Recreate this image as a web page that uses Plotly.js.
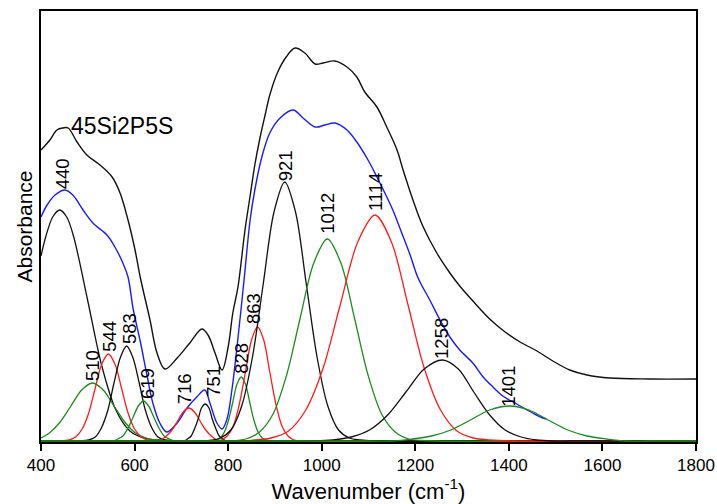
<!DOCTYPE html>
<html>
<head>
<meta charset="utf-8">
<script src="https://cdn.plot.ly/plotly-3.0.1.min.js"></script>
<style>html,body{margin:0;padding:0;background:#fff;}#chart{width:717px;height:504px;}</style>
</head>
<body>
<div id="chart"></div>
<script>
// ---- Data (wavenumber in cm-1, absorbance in arbitrary units) ----
const spectrumX = [400,419,434,447,458,477,498,526,552,569,586,601,612,633,648,665,691,718,744,757,772,787,800,810,821,836,847,857,868,879,889,906,924,943,964,986,1003,1028,1054,1075,1092,1118,1139,1161,1174,1195,1216,1246,1274,1295,1327,1359,1392,1424,1460,1494,1530,1567,1616,1700,1800];
const spectrumY = [2.91,3.01,3.11,3.13,3.13,2.99,2.86,2.76,2.64,2.48,2.21,1.91,1.64,1.21,0.88,0.72,0.83,0.98,1.12,1.06,0.88,0.71,0.94,1.28,1.54,2.11,2.45,2.76,3.03,3.26,3.46,3.69,3.84,3.93,3.88,3.77,3.78,3.80,3.74,3.64,3.49,3.34,3.14,2.91,2.71,2.41,2.15,1.88,1.68,1.55,1.38,1.22,1.09,0.99,0.90,0.80,0.71,0.66,0.63,0.62,0.62];

const fitX = [400,413,430,451,468,490,511,541,558,575,586,597,612,626,639,654,669,691,712,733,750,761,776,787,797,808,819,834,847,857,872,889,911,939,960,986,1007,1028,1054,1075,1099,1118,1135,1152,1171,1189,1206,1231,1253,1274,1295,1323,1345,1366,1387,1417,1439,1451,1473,1480];
const fitY = [2.24,2.36,2.46,2.51,2.46,2.31,2.18,2.06,1.94,1.78,1.64,1.32,1.00,0.67,0.38,0.18,0.09,0.18,0.33,0.44,0.51,0.38,0.18,0.12,0.21,0.51,0.94,1.61,2.21,2.51,2.84,3.08,3.23,3.31,3.23,3.14,3.16,3.18,3.11,2.99,2.81,2.64,2.48,2.31,2.08,1.86,1.63,1.41,1.21,1.04,0.91,0.78,0.64,0.54,0.45,0.37,0.31,0.28,0.23,0.22];

const peakLabels = ['440','510','544','583','619','716','751','828','863','921','1012','1114','1258','1401'];

const band440X = [400,410,425,440,455,470,500,530,560,590,620,650,700,1800];
const band440Y = [1.85,2.04,2.24,2.31,2.24,2.04,1.40,0.75,0.31,0.10,0.03,0.01,0,0];
const band510X = [400,418,441,464,487,510,533,556,579,602,625,648,671,700,1800];
const band510Y = [0.03,0.08,0.19,0.35,0.51,0.58,0.51,0.35,0.19,0.08,0.03,0.01,0,0,0];
const band544X = [400,440,460,474,488,502,516,530,544,558,572,586,600,614,628,660,1800];
const band544Y = [0,0,0.01,0.04,0.12,0.28,0.53,0.77,0.87,0.77,0.53,0.28,0.12,0.04,0.01,0,0];
const band583X = [400,480,502,516,529,543,556,570,583,596,610,623,637,650,664,690,1800];
const band583Y = [0,0,0.01,0.04,0.13,0.31,0.58,0.84,0.95,0.84,0.58,0.31,0.13,0.04,0.01,0,0];
const band619X = [400,530,553,564,575,586,597,608,619,630,641,652,663,674,685,710,1800];
const band619Y = [0,0,0,0.02,0.05,0.13,0.24,0.35,0.40,0.35,0.24,0.13,0.05,0.02,0,0,0];
const band716X = [400,620,644,656,668,680,692,704,716,728,740,752,764,776,788,812,1800];
const band716Y = [0,0,0,0.01,0.05,0.11,0.20,0.29,0.33,0.29,0.20,0.11,0.05,0.01,0,0,0];
const band751X = [400,690,706,713,721,728,736,743,751,759,766,774,781,789,796,810,1800];
const band751Y = [0,0,0,0.02,0.05,0.12,0.22,0.33,0.37,0.33,0.22,0.12,0.05,0.02,0,0,0];
const band828X = [400,750,774,783,792,801,810,819,828,837,846,855,864,873,882,900,1800];
const band828Y = [0,0,0.01,0.03,0.09,0.21,0.39,0.57,0.64,0.57,0.39,0.21,0.09,0.03,0.01,0,0];
const band863X = [400,760,785,798,811,824,837,850,863,876,889,902,915,928,941,965,1800];
const band863Y = [0,0,0.01,0.05,0.15,0.37,0.69,1.01,1.14,1.01,0.69,0.37,0.15,0.05,0.01,0,0];
const band921X = [400,750,783,806,829,852,875,898,921,944,967,990,1013,1036,1059,1082,1110,1800];
const band921Y = [0,0,0.03,0.11,0.35,0.84,1.57,2.29,2.59,2.29,1.57,0.84,0.35,0.11,0.03,0.01,0,0];
const band1012X = [400,800,838,867,896,925,954,983,1012,1041,1070,1099,1128,1157,1186,1215,1240,1800];
const band1012Y = [0,0,0.02,0.09,0.27,0.66,1.23,1.78,2.02,1.78,1.23,0.66,0.27,0.09,0.02,0.005,0,0];
const band1114X = [400,830,855,892,929,966,1003,1040,1077,1114,1149,1184,1219,1254,1289,1324,1359,1400,1800];
const band1114Y = [0,0,0.01,0.03,0.10,0.31,0.73,1.37,1.99,2.26,1.99,1.37,0.73,0.31,0.10,0.03,0.01,0,0];
const band1258X = [400,960,985,1024,1063,1102,1141,1180,1219,1258,1292,1325,1359,1392,1426,1459,1493,1530,1800];
const band1258Y = [0,0,0,0.01,0.04,0.11,0.26,0.49,0.72,0.81,0.72,0.49,0.26,0.11,0.04,0.01,0,0,0];
const band1401X = [400,1100,1152,1193,1235,1276,1318,1359,1401,1443,1484,1526,1567,1609,1650,1700,1800];
const band1401Y = [0,0,0,0.02,0.05,0.11,0.21,0.31,0.35,0.31,0.21,0.11,0.05,0.02,0,0,0];

const sampleName = '45Si2P5S';

// ---- Styling ----
const BLACK = '#111111', BLUE = '#1a1aff', RED = '#ff1a1a', GREEN = '#1a8c1a';
const FONT = 'Liberation Sans, Arial, Helvetica, sans-serif';

const bands = [
  {x: band440X,  y: band440Y,  c: BLACK},
  {x: band510X,  y: band510Y,  c: GREEN},
  {x: band544X,  y: band544Y,  c: RED},
  {x: band583X,  y: band583Y,  c: BLACK},
  {x: band619X,  y: band619Y,  c: GREEN},
  {x: band716X,  y: band716Y,  c: RED},
  {x: band751X,  y: band751Y,  c: BLACK},
  {x: band828X,  y: band828Y,  c: GREEN},
  {x: band863X,  y: band863Y,  c: RED},
  {x: band921X,  y: band921Y,  c: BLACK},
  {x: band1012X, y: band1012Y, c: GREEN},
  {x: band1114X, y: band1114Y, c: RED},
  {x: band1258X, y: band1258Y, c: BLACK},
  {x: band1401X, y: band1401Y, c: GREEN}
];

const traces = [
  {x: spectrumX, y: spectrumY, mode: 'lines', line: {color: BLACK, width: 1.4, shape: 'spline', smoothing: 1}, hoverinfo: 'skip'},
  {x: fitX, y: fitY, mode: 'lines', line: {color: BLUE, width: 1.4, shape: 'spline', smoothing: 1}, hoverinfo: 'skip'}
];
bands.forEach(b => traces.push({x: b.x, y: b.y, mode: 'lines', line: {color: b.c, width: 1.3, shape: 'spline', smoothing: 0.9}, hoverinfo: 'skip'}));

// label offsets in pixels (styling only)
const labelShiftX = [3,0,1,3,4,-4,8,0,-4,1,0,0,-1,-1];
const labelShiftY = [0,1,1,1,1,3,6,2,2,0,4,3,0,-2];

const annotations = peakLabels.map((lab, i) => {
  const b = bands[i];
  let top = Math.max(...b.y);
  if (i === 0) top = Math.max(...fitY.filter((v, k) => fitX[k] < 520));
  return {
    x: Number(lab), y: top, xref: 'x', yref: 'y',
    text: lab, showarrow: false, textangle: -90,
    xanchor: 'center', yanchor: 'bottom',
    xshift: labelShiftX[i], yshift: labelShiftY[i], borderpad: 0,
    font: {family: FONT, size: 18.5, color: '#000'}
  };
});
annotations.push({
  x: 462, y: 3.15, xref: 'x', yref: 'y', text: sampleName, showarrow: false,
  xanchor: 'left', yanchor: 'middle', borderpad: 0,
  font: {family: FONT, size: 23, color: '#000'}
});

const layout = {
  width: 717, height: 504,
  margin: {l: 41, r: 21, t: 11, b: 62},
  paper_bgcolor: '#ffffff', plot_bgcolor: '#ffffff',
  showlegend: false,
  font: {family: FONT, color: '#000'},
  xaxis: {
    range: [400, 1800], tickvals: [400,600,800,1000,1200,1400,1600,1800],
    ticks: 'outside', ticklen: 7, tickwidth: 2, tickcolor: '#000',
    showline: true, linewidth: 2, linecolor: '#000', mirror: true,
    showgrid: false, zeroline: false,
    tickfont: {family: FONT, size: 17, color: '#000'},
    title: {text: 'Wavenumber (cm<sup>-1</sup>)', font: {family: FONT, size: 22, color: '#000'}, standoff: 4}
  },
  yaxis: {
    range: [-0.01, 4.30], showticklabels: false, ticks: '',
    showline: true, linewidth: 2, linecolor: '#000', mirror: true,
    showgrid: false, zeroline: false,
    title: {text: 'Absorbance', font: {family: FONT, size: 21, color: '#000'}, standoff: 1}
  },
  annotations: annotations
};

Plotly.newPlot('chart', traces, layout, {staticPlot: true, displayModeBar: false});
</script>
</body>
</html>
